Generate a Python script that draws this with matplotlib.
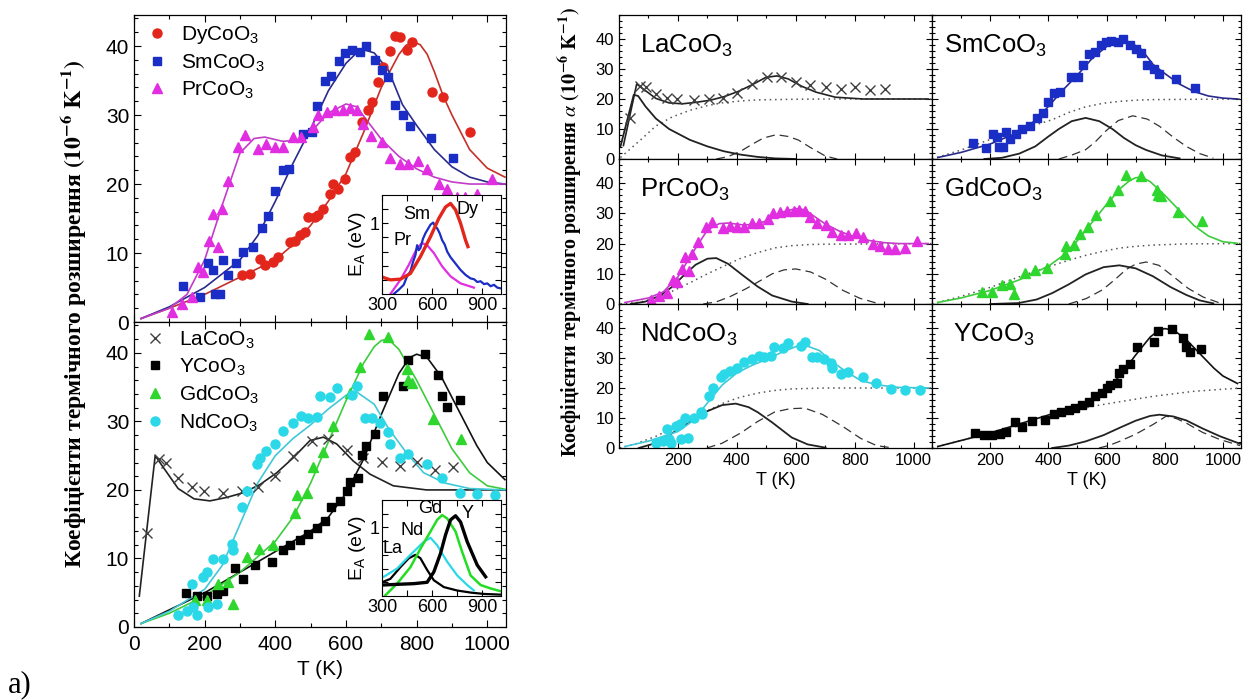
import matplotlib
matplotlib.use("Agg")
import matplotlib.pyplot as plt
from matplotlib.ticker import MultipleLocator, FixedLocator, FixedFormatter, NullFormatter

# ---- measured points (T in K, alpha in 1e-6 K^-1) ----
dy_T = [307, 328, 357, 371, 394, 408, 442, 456, 470, 483, 493, 512, 522, 536, 555, 564, 578,
        597, 611, 626, 644, 663, 673, 692, 706, 725, 739, 753, 772, 786, 843, 875, 951]
dy_a = [6.8, 7.0, 9.2, 8.2, 8.7, 9.4, 11.6, 11.8, 12.6, 13.0, 15.2, 15.2, 15.5, 16.4, 18.6, 20.0, 19.3,
        20.8, 23.9, 24.6, 29.0, 30.7, 31.9, 34.8, 37.0, 39.3, 41.4, 41.3, 39.4, 40.6, 33.3, 32.6, 27.5]

sm_T = [140, 187, 210, 224, 229, 243, 253, 267, 290, 309, 338, 361, 380, 399, 421, 440, 479, 503,
        519, 541, 559, 581, 597, 616, 640, 658, 682, 701, 720, 739, 762, 781, 840, 904]
sm_a = [5.2, 3.6, 8.5, 7.5, 4.1, 4.1, 9.0, 6.8, 8.5, 10.1, 10.9, 13.6, 15.3, 19.0, 22.0, 22.2, 27.3, 27.5,
        31.3, 34.9, 35.6, 37.9, 39.0, 39.4, 39.1, 40.0, 38.0, 36.6, 35.5, 31.5, 30.0, 28.4, 26.7, 23.8]

pr_T = [107, 135, 163, 182, 196, 213, 225, 239, 248, 267, 295, 314, 352, 375, 399, 423, 451, 474, 507,
        521, 545, 569, 593, 611, 630, 649, 672, 701, 724, 753, 776, 805, 828, 862, 885, 913, 937, 970, 1012]
pr_a = [1.4, 2.6, 3.6, 8.0, 7.2, 11.7, 15.7, 10.9, 16.4, 20.5, 25.4, 27.1, 25.1, 25.8, 25.4, 25.4, 26.8, 26.8, 28.3,
        30.0, 30.4, 30.7, 30.7, 31.0, 30.7, 28.7, 26.9, 26.1, 23.7, 22.9, 22.9, 23.4, 22.2, 20.0, 19.3, 18.1, 18.1, 18.6, 20.8]

la_T = [38, 71, 91, 125, 163, 198, 253, 305, 352, 399, 451, 503, 550, 602, 649, 701, 753, 800, 852, 902]
la_a = [13.7, 24.5, 23.9, 21.8, 20.4, 19.9, 19.6, 19.9, 20.4, 22.1, 25.0, 27.2, 27.4, 25.8, 24.7, 24.1, 23.5, 24.1, 22.9, 23.3]

y_T = [147, 177, 206, 234, 253, 286, 309, 343, 390, 421, 442, 470, 493, 517, 541, 559, 583, 602, 611, 635,
       644, 658, 682, 704, 762, 776, 824, 861, 873, 885, 923]
y_a = [4.9, 4.5, 4.5, 4.8, 5.2, 8.6, 7.0, 9.0, 9.5, 11.2, 11.9, 12.7, 13.5, 14.5, 15.4, 17.5, 18.4, 19.9, 21.1, 21.8,
       25.1, 26.4, 28.1, 33.7, 35.2, 38.9, 39.8, 36.8, 33.7, 32.1, 33.1]

gd_T = [173, 206, 281, 239, 267, 319, 355, 394, 456, 460, 489, 508, 536, 564, 611, 640, 666, 720, 772, 776, 786, 847, 927]
gd_a = [4.0, 3.9, 3.3, 6.3, 6.5, 10.2, 11.4, 11.9, 16.7, 19.2, 19.5, 23.3, 25.5, 29.3, 34.2, 37.9, 42.8, 42.3, 37.6, 36.1, 35.6, 30.3, 27.4]

nd_T = [125, 149, 168, 163, 177, 210, 234, 194, 206, 225, 253, 277, 281, 305, 319, 347, 357, 375, 399, 423, 451, 474,
        493, 517, 526, 555, 574, 616, 630, 654, 673, 696, 720, 724, 753, 776, 828, 871, 923, 970, 1022]
nd_a = [1.7, 2.4, 2.9, 6.3, 1.8, 2.9, 3.4, 7.3, 8.0, 9.9, 9.9, 12.1, 11.2, 17.5, 19.9, 23.8, 24.7, 25.7, 26.7, 28.6, 29.8, 30.8,
        30.5, 30.6, 33.7, 33.5, 34.9, 33.9, 35.2, 30.5, 30.5, 29.8, 28.4, 26.7, 24.7, 25.2, 23.8, 21.8, 19.6, 19.4, 19.2]

# ---- fitted totals ----
dy_fit_T = [20, 100, 200, 300, 400, 450, 500, 550, 600, 650, 700, 750, 770, 790, 810, 830, 850, 875, 900, 950, 1000, 1050]
dy_fit = [0.5, 2.0, 4.0, 6.5, 9.0, 11.2, 14.0, 17.5, 21.5, 27.5, 34.0, 38.8, 40.1, 40.6, 40.2, 38.8, 36.3, 32.8, 30.0, 25.0, 22.3, 21.0]
sm_fit_T = [20, 100, 200, 300, 350, 400, 450, 500, 550, 600, 630, 655, 680, 720, 760, 800, 850, 900, 950, 1000, 1050]
sm_fit = [0.5, 2.2, 5.0, 9.0, 12.5, 17.5, 23.0, 28.0, 33.5, 37.5, 39.0, 39.4, 39.0, 36.5, 31.5, 28.5, 25.0, 22.5, 21.0, 20.3, 20.0]
pr_fit_T = [20, 100, 150, 200, 250, 300, 340, 370, 420, 460, 500, 550, 600, 630, 670, 700, 750, 800, 850, 900, 950, 1050]
pr_fit = [0.5, 2.0, 4.0, 9.0, 17.0, 24.5, 26.6, 26.8, 26.2, 26.3, 27.5, 30.3, 31.6, 31.2, 28.5, 26.5, 24.0, 22.2, 21.0, 20.3, 20.0, 20.0]
la_fit_T = [15, 60, 80, 125, 170, 215, 262, 310, 357, 404, 451, 498, 536, 574, 621, 668, 734, 828, 1050]
la_fit = [4.5, 25.0, 23.5, 20.2, 18.7, 18.4, 18.9, 19.6, 20.8, 22.5, 24.7, 27.2, 27.7, 26.7, 24.2, 22.3, 20.6, 20.0, 20.0]
y_fit_T = [20, 100, 200, 300, 400, 500, 550, 600, 650, 700, 750, 780, 800, 830, 870, 920, 970, 1000, 1050]
y_fit = [0.5, 2.5, 5.0, 8.0, 11.0, 14.0, 16.0, 19.5, 24.5, 31.0, 37.0, 39.3, 39.8, 39.3, 36.5, 31.5, 26.5, 24.0, 21.5]
gd_fit_T = [20, 100, 200, 300, 400, 450, 500, 550, 600, 650, 680, 700, 720, 750, 800, 850, 900, 950, 1000, 1050]
gd_fit = [0.5, 2.0, 4.5, 8.0, 12.5, 16.0, 21.0, 27.0, 33.0, 38.5, 40.9, 41.8, 42.0, 40.5, 36.0, 31.0, 26.0, 22.5, 20.6, 20.1]
nd_fit_T = [20, 100, 200, 250, 300, 350, 400, 450, 500, 550, 600, 630, 680, 720, 770, 820, 880, 950, 1050]
nd_fit = [0.5, 2.3, 5.5, 9.0, 15.0, 21.0, 25.0, 27.5, 29.5, 31.8, 33.8, 34.3, 32.5, 29.0, 25.5, 22.5, 21.0, 20.2, 20.0]

# ---- fit components (right panels): solid peak, dashed peak, dotted lattice ----
la_c1_T = [5, 50, 65, 90, 125, 170, 240, 300, 355, 410, 470, 530, 600]
la_c1 = [4.2, 21.4, 21.0, 17.5, 13.5, 10.0, 6.4, 4.2, 2.6, 1.5, 0.7, 0.2, 0.0]
la_c2_T = [330, 370, 413, 450, 490, 534, 575, 609, 650, 700, 740]
la_c2 = [0.0, 0.8, 2.6, 4.8, 7.0, 8.1, 7.5, 6.3, 3.8, 1.0, 0.0]
la_d_T = [5, 40, 78, 125, 180, 240, 300, 355, 420, 470, 586, 700, 1060]
la_d = [0.5, 3.5, 6.8, 11.0, 14.0, 16.2, 17.8, 18.8, 19.4, 19.7, 19.9, 20.0, 20.0]

pr_c1_T = [40, 90, 140, 182, 220, 260, 300, 330, 370, 420, 470, 520, 586, 640]
pr_c1 = [0.0, 0.8, 2.8, 5.8, 9.5, 13.0, 15.0, 15.2, 13.3, 9.5, 5.8, 2.8, 0.8, 0.0]
pr_c2_T = [286, 330, 378, 430, 470, 520, 560, 600, 650, 701, 760, 817, 874]
pr_c2 = [0.0, 0.7, 2.5, 5.0, 7.2, 10.0, 11.3, 11.6, 10.6, 8.2, 4.5, 1.9, 0.3]
pr_d_T = [5, 70, 125, 180, 240, 300, 355, 410, 470, 530, 586, 650, 701, 1060]
pr_d = [0.0, 0.6, 1.9, 4.2, 7.0, 10.0, 12.5, 15.0, 17.0, 18.6, 19.3, 19.7, 19.8, 20.0]

sm_c1_T = [180, 240, 300, 355, 400, 436, 480, 528, 575, 620, 660, 700, 736, 790, 851]
sm_c1 = [0.0, 0.4, 1.8, 4.2, 7.5, 10.0, 12.6, 13.7, 12.6, 10.0, 7.0, 4.6, 3.0, 1.2, 0.2]
sm_c2_T = [436, 480, 528, 560, 597, 640, 690, 740, 782, 830, 874, 920, 967]
sm_c2 = [0.0, 1.3, 3.1, 5.6, 9.3, 12.8, 14.4, 13.3, 10.9, 7.2, 4.2, 1.8, 0.3]
sm_d_T = [0, 100, 200, 297, 360, 413, 470, 528, 590, 644, 700, 759, 1060]
sm_d = [0.0, 3.0, 6.5, 9.8, 11.5, 13.1, 15.5, 17.4, 18.6, 19.2, 19.6, 19.8, 20.0]

gd_c1_T = [200, 297, 360, 413, 470, 528, 590, 644, 700, 759, 820, 874, 920, 967]
gd_c1 = [0.0, 0.3, 1.5, 3.6, 6.5, 9.8, 12.2, 12.8, 11.8, 9.2, 5.6, 3.0, 1.2, 0.2]
gd_c2_T = [470, 530, 586, 630, 667, 700, 736, 780, 828, 880, 932, 990]
gd_c2 = [0.0, 1.8, 4.7, 8.2, 11.4, 13.2, 13.9, 12.8, 9.2, 5.2, 2.3, 0.3]
gd_d_T = [0, 100, 200, 300, 360, 413, 470, 528, 590, 644, 700, 759, 874, 1060]
gd_d = [0.0, 2.5, 5.5, 9.0, 11.0, 12.7, 14.5, 16.1, 17.5, 18.5, 19.1, 19.5, 19.9, 20.0]

nd_c1_T = [67, 120, 182, 240, 298, 350, 396, 440, 471, 520, 586, 640, 701]
nd_c1 = [0.0, 1.5, 5.0, 8.7, 12.2, 14.3, 14.8, 13.6, 11.9, 8.5, 3.5, 1.2, 0.1]
nd_c2_T = [298, 350, 413, 470, 528, 580, 630, 690, 759, 820, 874, 930]
nd_c2 = [0.0, 1.6, 5.0, 8.8, 12.0, 13.1, 13.3, 11.2, 7.2, 3.2, 0.8, 0.0]
nd_d_T = [3, 60, 125, 180, 240, 300, 355, 410, 471, 530, 586, 700, 1060]
nd_d = [0.0, 1.5, 3.9, 6.5, 9.4, 12.4, 15.0, 16.9, 18.3, 19.2, 19.7, 20.0, 20.0]

y_c1_T = [413, 470, 528, 590, 644, 700, 750, 782, 830, 874, 930, 990, 1059]
y_c1 = [0.0, 0.8, 2.2, 4.3, 6.7, 9.1, 10.7, 11.1, 10.5, 9.2, 6.5, 3.9, 1.4]
y_c2_T = [574, 610, 644, 700, 759, 805, 840, 874, 930, 990, 1059]
y_c2 = [0.0, 0.9, 2.2, 4.6, 7.8, 10.6, 9.8, 8.3, 5.2, 2.8, 0.8]
y_d_T = [0, 100, 200, 300, 400, 551, 650, 759, 900, 1059]
y_d = [0.0, 2.5, 5.0, 7.5, 10.0, 13.9, 15.5, 17.2, 18.9, 20.0]

# ---- activation energy insets (T in K, E_A in eV) ----
dy_ea_T = [300, 350, 410, 470, 530, 590, 640, 680, 710, 740, 770, 800, 814]
dy_ea = [0.24, 0.20, 0.21, 0.29, 0.53, 0.81, 1.07, 1.23, 1.28, 1.19, 1.00, 0.76, 0.67]
sm_ea_T = [370, 400, 430, 450, 470, 485, 500, 510, 520, 530, 545, 560, 575, 590, 606, 618, 630, 645, 660, 675,
           690, 710, 730, 750, 770, 800, 830, 850, 870, 890, 910, 930, 950, 970, 990, 1010]
sm_ea = [0.0, 0.06, 0.13, 0.25, 0.32, 0.45, 0.55, 0.69, 0.62, 0.65, 0.78, 0.86, 0.92, 0.98, 1.01, 0.96, 0.93, 0.86, 0.76, 0.70,
         0.60, 0.52, 0.46, 0.40, 0.34, 0.27, 0.22, 0.21, 0.17, 0.18, 0.14, 0.15, 0.11, 0.13, 0.09, 0.08]
pr_ea_T = [350, 410, 460, 510, 540, 570, 610, 660, 710, 770, 850]
pr_ea = [0.0, 0.20, 0.41, 0.65, 0.72, 0.69, 0.58, 0.39, 0.25, 0.15, 0.09]

la_ea_T = [300, 350, 410, 460, 500, 530, 570, 610, 670, 750, 830, 910, 1010]
la_ea = [0.20, 0.25, 0.42, 0.55, 0.60, 0.55, 0.38, 0.23, 0.13, 0.08, 0.05, 0.03, 0.02]
nd_ea_T = [310, 390, 470, 550, 590, 630, 690, 750, 810, 850]
nd_ea = [0.28, 0.40, 0.60, 0.79, 0.85, 0.74, 0.50, 0.30, 0.16, 0.08]
gd_ea_T = [320, 390, 470, 530, 590, 630, 660, 690, 740, 780, 830, 890, 950, 1010]
gd_ea = [0.01, 0.18, 0.42, 0.69, 0.94, 1.11, 1.18, 1.13, 0.94, 0.64, 0.30, 0.16, 0.11, 0.07]
y_ea_T = [300, 390, 490, 570, 610, 650, 680, 710, 740, 770, 810, 870, 920]
y_ea = [0.16, 0.17, 0.18, 0.20, 0.35, 0.62, 0.89, 1.11, 1.17, 1.08, 0.79, 0.45, 0.28]

# colours
c_dy, l_dy = "#e3261c", "#c4302a"
c_sm, l_sm = "#1a2dc4", "#2a2a8c"
c_pr, l_pr = "#e02ee0", "#c23cc8"
c_gd, l_gd = "#2ed62e", "#3ccc3c"
c_nd, l_nd = "#2ad8e8", "#40c8d8"
c_la = "#404040"

plt.rcParams["font.family"] = ["Liberation Sans", "DejaVu Sans"]
plt.rcParams["mathtext.fontset"] = "custom"
plt.rcParams["mathtext.rm"] = "Liberation Sans"
plt.rcParams["mathtext.it"] = "Liberation Sans:italic"
plt.rcParams["mathtext.bf"] = "Liberation Sans:bold"

fig = plt.figure(figsize=(12.55, 7.0), dpi=100)
W, H = 1255.0, 700.0


def px_axes(x0, y0, x1, y1):
    return fig.add_axes([x0 / W, 1 - y1 / H, (x1 - x0) / W, (y1 - y0) / H])


def style(ax, size, xmaj, xmin, ymaj, ymin, ln=4):
    ax.tick_params(which="both", direction="in", top=True, right=True, labelsize=size, width=0.8)
    ax.tick_params(which="major", length=ln)
    ax.tick_params(which="minor", length=ln * 0.6)
    ax.xaxis.set_major_locator(MultipleLocator(xmaj))
    ax.xaxis.set_minor_locator(MultipleLocator(xmin))
    ax.yaxis.set_major_locator(MultipleLocator(ymaj))
    ax.yaxis.set_minor_locator(MultipleLocator(ymin))
    for s in ax.spines.values():
        s.set_linewidth(0.9)


mk = dict(linestyle="none")

# ================= left block =================
ax1 = px_axes(134, 15, 506, 322)
ax2 = px_axes(134, 322, 506, 627)
for ax in (ax1, ax2):
    ax.set_xlim(0, 1053)
    ax.set_ylim(0, 44.5)
    style(ax, 15, 200, 100, 10, 2, ln=5)
ax1.xaxis.set_major_formatter(NullFormatter())
ax2.tick_params(axis="x", which="major", pad=6)

ax1.plot(dy_fit_T, dy_fit, color=l_dy, lw=1.2)
ax1.plot(sm_fit_T, sm_fit, color=l_sm, lw=1.2)
ax1.plot(pr_fit_T, pr_fit, color=l_pr, lw=1.2)
ax1.plot(dy_T, dy_a, marker="o", ms=6.5, color=c_dy, label="DyCoO$_3$", **mk)
ax1.plot(sm_T, sm_a, marker="s", ms=5.5, color=c_sm, label="SmCoO$_3$", **mk)
ax1.plot(pr_T, pr_a, marker="^", ms=6.5, color=c_pr, label="PrCoO$_3$", **mk)
ax1.legend(loc="upper left", frameon=False, fontsize=15, handletextpad=0.5, labelspacing=0.28,
           borderaxespad=0.15, handlelength=1.3, borderpad=0.3)

ax2.plot(la_fit_T, la_fit, color="#222222", lw=1.2)
ax2.plot(y_fit_T, y_fit, color="#111111", lw=1.2)
ax2.plot(gd_fit_T, gd_fit, color=l_gd, lw=1.2)
ax2.plot(nd_fit_T, nd_fit, color=l_nd, lw=1.2)
ax2.plot(la_T, la_a, marker="x", ms=7, mew=1.0, color=c_la, label="LaCoO$_3$", **mk)
ax2.plot(y_T, y_a, marker="s", ms=5.5, color="black", label="YCoO$_3$", **mk)
ax2.plot(gd_T, gd_a, marker="^", ms=6.5, color=c_gd, label="GdCoO$_3$", **mk)
ax2.plot(nd_T, nd_a, marker="o", ms=6.5, color=c_nd, label="NdCoO$_3$", **mk)
ax2.legend(loc="upper left", frameon=False, fontsize=15, handletextpad=0.5, labelspacing=0.28,
           borderaxespad=0.05, handlelength=1.3, borderpad=0.3)
ax2.set_xlabel("T (K)", fontsize=15, labelpad=4)

fig.text(74 / W, 1 - 314 / H,
         r"Коефіцієнти термічного розширення $\mathbf{(10^{-6}\ K^{-1})}$",
         rotation=90, ha="center", va="center", fontsize=17, fontweight="bold",
         family="Liberation Serif", math_fontfamily="stix")


def inset(x0, y0, x1, y1, curves, names):
    ia = px_axes(x0, y0, x1, y1)
    for T, v, col, lw in curves:
        ia.plot(T, v, color=col, lw=lw)
    ia.set_xlim(300, 1012)
    ia.set_ylim(0, 1.4)
    ia.tick_params(which="both", direction="in", top=True, right=True, labelsize=13,
                   length=4, width=0.8, pad=2)
    ia.xaxis.set_major_locator(MultipleLocator(300))
    ia.xaxis.set_minor_locator(MultipleLocator(150))
    ia.yaxis.set_major_locator(FixedLocator([0.2, 0.4, 0.6, 0.8, 1.0, 1.2]))
    ia.yaxis.set_major_formatter(FixedFormatter(["", "", "", "", "1", ""]))
    ia.set_ylabel(r"E$_\mathrm{A}$ (eV)", fontsize=14, labelpad=1)
    for name, tx, ty in names:
        ia.text(tx, ty, name, fontsize=13, ha="center", va="center")
    return ia


inset(382, 195, 501, 294,
      [(pr_ea_T, pr_ea, c_pr, 1.6), (sm_ea_T, sm_ea, c_sm, 1.6), (dy_ea_T, dy_ea, c_dy, 2.4)],
      [("Sm", 510, 1.12), ("Dy", 810, 1.19), ("Pr", 420, 0.76)])
inset(382, 500, 501, 596,
      [(la_ea_T, la_ea, "black", 1.6), (nd_ea_T, nd_ea, c_nd, 1.6), (gd_ea_T, gd_ea, "#22dd22", 1.8),
       (y_ea_T, y_ea, "black", 2.4)],
      [("Gd", 590, 1.28), ("Y", 810, 1.2), ("Nd", 480, 0.96), ("La", 360, 0.69)])

# ================= right block =================
panels = [
    ("LaCoO", la_T, la_a, "x", c_la, la_fit_T, la_fit, "#222222",
     (la_c1_T, la_c1), (la_c2_T, la_c2), (la_d_T, la_d)),
    ("SmCoO", sm_T, sm_a, "s", c_sm, sm_fit_T, sm_fit, l_sm,
     (sm_c1_T, sm_c1), (sm_c2_T, sm_c2), (sm_d_T, sm_d)),
    ("PrCoO", pr_T, pr_a, "^", c_pr, pr_fit_T, pr_fit, l_pr,
     (pr_c1_T, pr_c1), (pr_c2_T, pr_c2), (pr_d_T, pr_d)),
    ("GdCoO", gd_T, gd_a, "^", c_gd, gd_fit_T, gd_fit, l_gd,
     (gd_c1_T, gd_c1), (gd_c2_T, gd_c2), (gd_d_T, gd_d)),
    ("NdCoO", nd_T, nd_a, "o", c_nd, nd_fit_T, nd_fit, l_nd,
     (nd_c1_T, nd_c1), (nd_c2_T, nd_c2), (nd_d_T, nd_d)),
    ("YCoO", y_T, y_a, "s", "black", y_fit_T, y_fit, "#111111",
     (y_c1_T, y_c1), (y_c2_T, y_c2), (y_d_T, y_d)),
]
col_x = [(619, 932), (932, 1241)]
row_y = [(15, 159), (159, 304), (304, 448)]
label_x = [0.067, 0.04, 0.067, 0.04, 0.067, 0.068]

for i, p in enumerate(panels):
    name, T, a, m, c, fT, f, fc, c1, c2, dd = p
    r, k = divmod(i, 2)
    ax = px_axes(col_x[k][0], row_y[r][0], col_x[k][1], row_y[r][1])
    ax.set_xlim(0, 1062)
    ax.set_ylim(0, 48)
    style(ax, 12, 200, 100, 10, 2, ln=4)
    ax.xaxis.set_major_locator(FixedLocator([200, 400, 600, 800, 1000]))
    ax.plot(dd[0], dd[1], color="#555555", lw=1.1, ls=(0, (1, 2.5)))
    ax.plot(c2[0], c2[1], color="#333333", lw=0.9, ls=(0, (7, 4)))
    ax.plot(c1[0], c1[1], color="#222222", lw=1.3)
    ax.plot(fT, f, color=fc, lw=1.2)
    ms = 7 if m == "x" else (6.5 if m != "s" else 5.5)
    ax.plot(T, a, marker=m, ms=ms, color=c, mew=1.0, **mk)
    ax.text(label_x[i], 0.74, name + "$_3$", transform=ax.transAxes, fontsize=18.5,
            ha="left", va="baseline")
    if k == 1:
        ax.yaxis.set_major_formatter(NullFormatter())
    if r < 2:
        ax.xaxis.set_major_formatter(NullFormatter())
    else:
        ax.set_xlabel("T (K)", fontsize=13, labelpad=3)

fig.text(571 / W, 1 - 232 / H,
         r"Коефіцієнти термічного розширення $\alpha$ $\mathbf{(10^{-6}\ K^{-1})}$",
         rotation=90, ha="center", va="center", fontsize=14.5, fontweight="bold",
         family="Liberation Serif", math_fontfamily="stix")

fig.text(8 / W, 1 - 692 / H, "a)", fontsize=22, family="Liberation Serif", ha="left", va="baseline")

fig.savefig("out.png", dpi=100)
